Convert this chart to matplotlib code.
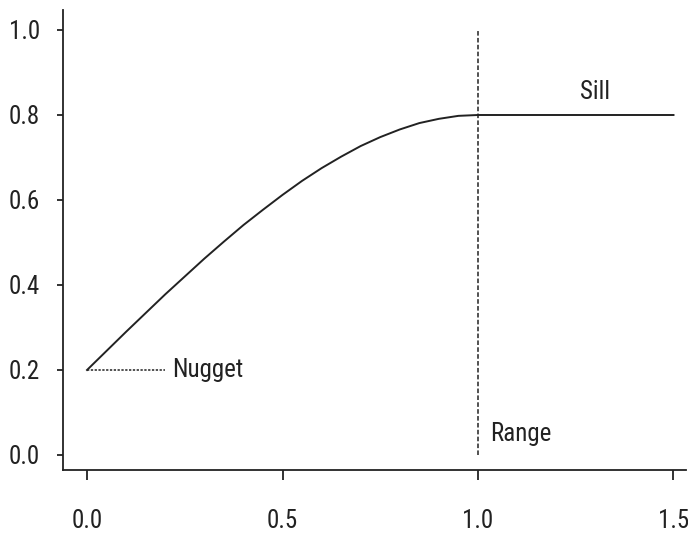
import matplotlib
matplotlib.use("Agg")
import matplotlib.pyplot as plt

# Semivariogram model curve (lag distance vs semivariance)
lag = [0.0, 0.05, 0.1, 0.15, 0.2, 0.25, 0.3, 0.35, 0.4, 0.45, 0.5,
       0.55, 0.6, 0.65, 0.7, 0.75, 0.8, 0.85, 0.9, 0.95, 1.0, 1.5]
gamma = [0.200, 0.245, 0.290, 0.334, 0.378, 0.420, 0.462, 0.502, 0.541,
         0.577, 0.612, 0.645, 0.675, 0.702, 0.727, 0.748, 0.766, 0.781,
         0.791, 0.798, 0.800, 0.800]

nugget = 0.2
sill = 0.8
range_ = 1.0

xticks = [0.0, 0.5, 1.0, 1.5]
yticks = [0.0, 0.2, 0.4, 0.6, 0.8, 1.0]

plt.rcParams["font.family"] = ["Roboto Condensed", "Archivo Narrow", "PT Sans Narrow", "DejaVu Sans"]

fig = plt.figure(figsize=(6.88, 5.33), dpi=100)
ax = fig.add_axes([0.0916, 0.1182, 0.9055, 0.863])

ink = "#222222"
ax.plot(lag, gamma, color=ink, lw=1.4)
ax.plot([0, 0.2], [nugget, nugget], color=ink, lw=1.1, linestyle=(0, (1.5, 1)))
ax.plot([range_, range_], [0, 1.0], color=ink, lw=1.1, linestyle=(0, (3, 1.5)))

ax.text(0.217, nugget, "Nugget", fontsize=18, va="center", ha="left", color=ink)
ax.text(1.30, 0.855, "Sill", fontsize=18, va="center", ha="center", color=ink)
ax.text(1.03, 0.05, "Range", fontsize=18, va="center", ha="left", color=ink)

ax.set_xlim(-0.0614, 1.532)
ax.set_ylim(-0.0353, 1.047)
ax.set_xticks(xticks)
ax.set_xticklabels([f"{t:.1f}" for t in xticks])
ax.set_yticks(yticks)
ax.set_yticklabels([f"{t:.1f}" for t in yticks])

for s in ("top", "right"):
    ax.spines[s].set_visible(False)
for s in ("left", "bottom"):
    ax.spines[s].set_linewidth(1.3)
    ax.spines[s].set_color(ink)

ax.tick_params(axis="y", direction="out", length=4.5, width=1.3, pad=12,
               labelsize=18, colors=ink)
ax.tick_params(axis="x", direction="out", length=7, width=1.3, pad=21,
               labelsize=18, colors=ink)

fig.savefig("out.png", dpi=100)
